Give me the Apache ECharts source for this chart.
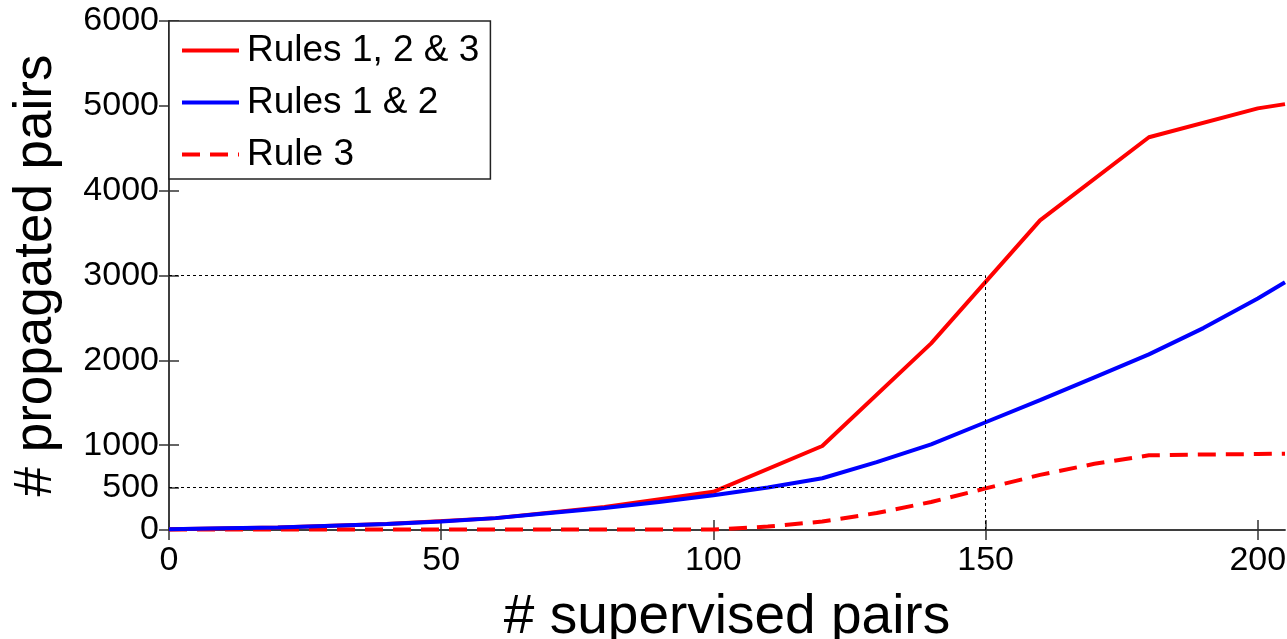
<!DOCTYPE html>
<html>
<head>
<meta charset="utf-8">
<script src="https://cdn.jsdelivr.net/npm/echarts@6/dist/echarts.min.js"></script>
<style>
  html, body { margin: 0; padding: 0; background: #fff; }
  #chart { width: 1287px; height: 639px; }
</style>
</head>
<body>
<div id="chart"></div>
<script>
// supervised pairs (x) and propagated pairs (y)
const xFine = [0, 10, 20, 30, 40, 50, 60, 70, 80, 90, 100, 110, 120, 130, 140, 150, 160, 170, 180, 190, 200, 205]
const rules12 = [10, 20, 30, 50, 70, 100, 140, 200, 260, 330, 410, 500, 610, 800, 1010, 1270, 1530, 1800, 2070, 2380, 2730, 2920]
const rule3 = [5, 5, 5, 5, 5, 5, 5, 5, 5, 5, 5, 40, 100, 200, 330, 490, 650, 780, 880, 890, 895, 900]

const xCoarse = [0, 20, 40, 60, 80, 100, 120, 140, 160, 180, 200, 205]
const rules123 = [10, 30, 70, 140, 270, 450, 990, 2200, 3650, 4630, 4970, 5020]

const xTicks = [0, 50, 100, 150, 200]
const yLabels = [0, 500, 1000, 2000, 3000, 4000, 5000, 6000]
const yTicksRight = [0, 1000, 2000, 3000, 4000, 5000, 6000]

// dotted guide lines at x = 150
const guides = [
  [[0, 3000], [150, 3000]],
  [[0, 500], [150, 500]],
  [[150, 0], [150, 3000]]
]

const zip = (xs, ys) => xs.map((x, i) => [x, ys[i]])

const chart = echarts.init(document.getElementById('chart'))
const font = 'Liberation Sans, Arial, Helvetica, sans-serif'

const tickInside = { show: true, inside: true, length: 10, lineStyle: { color: '#333', width: 1.5 } }
const plain = v => String(v)

chart.setOption({
  animation: false,
  grid: { left: 169, right: 2, top: 21, bottom: 109, outerBoundsMode: 'none' },
  legend: {
    left: 169,
    top: 21,
    orient: 'vertical',
    backgroundColor: '#fff',
    borderColor: '#222',
    borderWidth: 1.5,
    padding: [11, 11, 6, 11],
    itemGap: 15,
    itemWidth: 57,
    itemHeight: 4,
    itemStyle: { opacity: 0 },
    lineStyle: { width: 4 },
    textStyle: { fontFamily: font, fontSize: 37, color: '#000', lineHeight: 36, padding: [0, 0, 0, 3] },
    data: ['Rules 1, 2 & 3', 'Rules 1 & 2', 'Rule 3']
  },
  xAxis: [
    {
      type: 'value',
      min: 0,
      max: 205,
      name: '# supervised pairs',
      nameLocation: 'middle',
      nameGap: 60,
      nameTextStyle: { fontFamily: font, fontSize: 55, color: '#000' },
      axisLine: { show: true, lineStyle: { color: '#333', width: 1.5 } },
      axisTick: { ...tickInside, customValues: xTicks },
      axisLabel: { customValues: xTicks, formatter: plain, fontFamily: font, fontSize: 34, color: '#000', margin: 14 },
      splitLine: { show: false }
    },
    {
      type: 'value',
      position: 'top',
      min: 0,
      max: 205,
      axisLine: { show: true, lineStyle: { color: '#333', width: 1.5 } },
      axisTick: { ...tickInside, customValues: xTicks },
      axisLabel: { show: false },
      splitLine: { show: false }
    }
  ],
  yAxis: [
    {
      type: 'value',
      min: 0,
      max: 6000,
      name: '# propagated pairs',
      nameLocation: 'middle',
      nameGap: 106,
      nameTextStyle: { fontFamily: font, fontSize: 53, color: '#000' },
      axisLine: { show: true, lineStyle: { color: '#333', width: 1.5 } },
      axisTick: { ...tickInside, customValues: yLabels },
      axisLabel: { customValues: yLabels, formatter: plain, fontFamily: font, fontSize: 34, color: '#000', margin: 10 },
      splitLine: { show: false }
    },
    {
      type: 'value',
      position: 'right',
      min: 0,
      max: 6000,
      axisLine: { show: true, lineStyle: { color: '#333', width: 1.5 } },
      axisTick: { ...tickInside, customValues: yTicksRight },
      axisLabel: { show: false },
      splitLine: { show: false }
    }
  ],
  series: [
    {
      name: 'Rules 1, 2 & 3',
      type: 'line',
      data: zip(xCoarse, rules123),
      symbol: 'none',
      lineStyle: { color: '#ff0000', width: 4 },
      itemStyle: { color: '#ff0000' },
      z: 3
    },
    {
      name: 'Rules 1 & 2',
      type: 'line',
      data: zip(xFine, rules12),
      symbol: 'none',
      lineStyle: { color: '#0000ff', width: 4 },
      itemStyle: { color: '#0000ff' },
      z: 4,
      markLine: {
        silent: true,
        symbol: 'none',
        label: { show: false },
        lineStyle: { color: '#000', width: 1, type: [3, 3] },
        data: guides.map(g => [{ coord: g[0] }, { coord: g[1] }])
      }
    },
    {
      name: 'Rule 3',
      type: 'line',
      data: zip(xFine, rule3),
      symbol: 'none',
      lineStyle: { color: '#ff0000', width: 4, type: [18, 10] },
      itemStyle: { color: '#ff0000' },
      z: 3
    }
  ]
})
</script>
</body>
</html>
